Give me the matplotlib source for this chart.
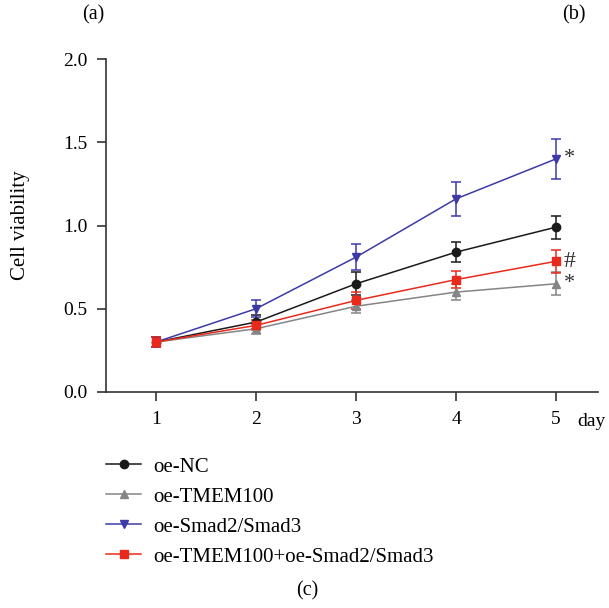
import matplotlib.pyplot as plt

plt.rcParams['font.family'] = ['Liberation Serif', 'DejaVu Serif']

days = [1, 2, 3, 4, 5]

nc = [0.30, 0.42, 0.65, 0.84, 0.99]
nc_err = [0.03, 0.04, 0.07, 0.06, 0.07]

tmem = [0.30, 0.38, 0.515, 0.60, 0.65]
tmem_err = [0.03, 0.03, 0.04, 0.05, 0.07]

smad = [0.30, 0.50, 0.81, 1.16, 1.40]
smad_err = [0.03, 0.05, 0.08, 0.10, 0.12]

combo = [0.30, 0.40, 0.55, 0.675, 0.785]
combo_err = [0.03, 0.03, 0.05, 0.05, 0.07]

labels = ['oe-NC', 'oe-TMEM100', 'oe-Smad2/Smad3', 'oe-TMEM100+oe-Smad2/Smad3']
colors = ['#1a1a1a', '#858585', '#3d3aa6', '#e8291c']
markers = ['o', '^', 'v', 's']
series = [(nc, nc_err), (tmem, tmem_err), (smad, smad_err), (combo, combo_err)]

# significance marks at day 5
marks = [('*', smad[-1]), ('#', combo[-1]), ('*', tmem[-1])]

fig = plt.figure(figsize=(6.09, 6.08), dpi=100)
ax = fig.add_axes([106 / 609, 1 - 392 / 608, 492 / 609, 333 / 608])

handles = []
for (vals, errs), lab, c, m in zip(series, labels, colors, markers):
    h = ax.errorbar(days, vals, yerr=errs, color=c, marker=m, markersize=6,
                    linewidth=1.1, elinewidth=1.1, capsize=3.5, capthick=1.1, label=lab)
    handles.append(h)

for sym, v in marks:
    ax.text(5.08, v, sym, fontsize=17 if sym == '#' else 16, va='center', ha='left', color='#333333')

ax.set_xlim(0.5, 5.42)
ax.set_ylim(0, 2.0)
ax.set_xticks(days)
ax.set_yticks([0.0, 0.5, 1.0, 1.5, 2.0])
ax.set_yticklabels(['0.0', '0.5', '1.0', '1.5', '2.0'])
ax.spines['top'].set_visible(False)
ax.spines['right'].set_visible(False)
for s in ['left', 'bottom']:
    ax.spines[s].set_linewidth(1.2)
    ax.spines[s].set_color('#333333')
ax.tick_params(direction='out', length=6.5, width=1.2, color='#333333', labelsize=14, pad=7)
ax.set_ylabel('Cell viability', fontsize=15)
ax.yaxis.set_label_coords(-0.154, 0.5)
fig.text(577 / 609, 1 - 421 / 608, 'day', fontsize=14, ha='left', va='center')

fig.legend(handles=[h[0] for h in handles], labels=labels, loc='upper left',
           bbox_to_anchor=(106 / 609, 1 - 457 / 608), frameon=False, fontsize=15,
           handlelength=1.68, labelspacing=0.5, handletextpad=0.58,
           borderpad=0, borderaxespad=0)

fig.text(82 / 609, 1 - 15 / 608, '(a)', fontsize=14.5, ha='left', va='center')
fig.text(562 / 609, 1 - 15 / 608, '(b)', fontsize=14.5, ha='left', va='center')
fig.text(307 / 609, 1 - 591 / 608, '(c)', fontsize=14.5, ha='center', va='center')

plt.savefig('out.png', dpi=100)
